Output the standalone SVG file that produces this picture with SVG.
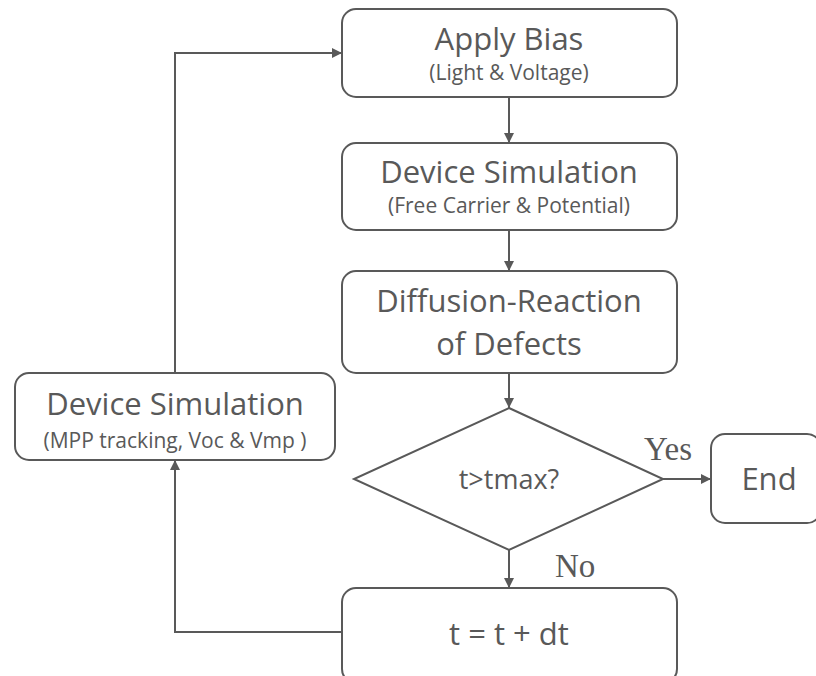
<svg xmlns="http://www.w3.org/2000/svg" width="816" height="676" viewBox="0 0 816 676">
  <defs>
    <marker id="arrow" viewBox="0 0 10 10" refX="10" refY="5" markerWidth="5" markerHeight="5" orient="auto" markerUnits="strokeWidth">
      <path d="M0,0 L10,5 L0,10 z" fill="#595959"/>
    </marker>
  </defs>
  <style>
    .box { fill: #ffffff; stroke: #595959; stroke-width: 2; }
    .main { font-family: "Open Sans", "Noto Sans", sans-serif; font-size: 31px; fill: #595959; text-anchor: middle; }
    .sub { font-family: "Open Sans", "Noto Sans", sans-serif; font-size: 21px; fill: #595959; text-anchor: middle; }
    .lbl { font-family: "Liberation Serif", serif; font-size: 33px; fill: #595959; }
    .conn { fill: none; stroke: #595959; stroke-width: 2; marker-end: url(#arrow); }
  </style>
  <rect width="816" height="676" fill="#ffffff"/>

  <g id="connectors">
    <path class="conn" d="M509,97 V143"/>
    <path class="conn" d="M509,230 V271"/>
    <path class="conn" d="M509,373 V408"/>
    <path class="conn" d="M663,479 H711"/>
    <path class="conn" d="M509,550 V588"/>
    <path class="conn" d="M342,632 H175 V460"/>
    <path class="conn" d="M175,373 V53 H342"/>
  </g>

  <g id="apply-bias">
    <rect class="box" x="342" y="9" width="335" height="88" rx="14"/>
    <text class="main" x="509" y="50">Apply Bias</text>
    <text class="sub" x="509" y="80">(Light &amp; Voltage)</text>
  </g>

  <g id="device-simulation">
    <rect class="box" x="342" y="143" width="335" height="87" rx="14"/>
    <text class="main" x="509" y="183">Device Simulation</text>
    <text class="sub" x="509" y="213">(Free Carrier &amp; Potential)</text>
  </g>

  <g id="diffusion-reaction">
    <rect class="box" x="342" y="271" width="335" height="102" rx="14"/>
    <text class="main" x="509" y="312">Diffusion-Reaction</text>
    <text class="main" x="509" y="355">of Defects</text>
  </g>

  <g id="decision">
    <polygon class="box" points="509,408 663,479 509,550 354,479"/>
    <text class="main" x="509" y="489" style="font-size:27px">t&gt;tmax?</text>
  </g>

  <g id="end">
    <rect class="box" x="711" y="434" width="110" height="89" rx="14"/>
    <text class="main" x="769" y="490">End</text>
  </g>

  <g id="time-step">
    <rect class="box" x="342" y="588" width="335" height="95" rx="14"/>
    <text class="main" x="509" y="645">t = t + dt</text>
  </g>

  <g id="device-simulation-mpp">
    <rect class="box" x="15" y="373" width="320" height="87" rx="14"/>
    <text class="main" x="175" y="415">Device Simulation</text>
    <text class="sub" x="175" y="448">(MPP tracking, Voc &amp; Vmp )</text>
  </g>

  <g id="labels">
    <text class="lbl" x="644" y="460">Yes</text>
    <text class="lbl" x="555" y="577">No</text>
  </g>
</svg>
